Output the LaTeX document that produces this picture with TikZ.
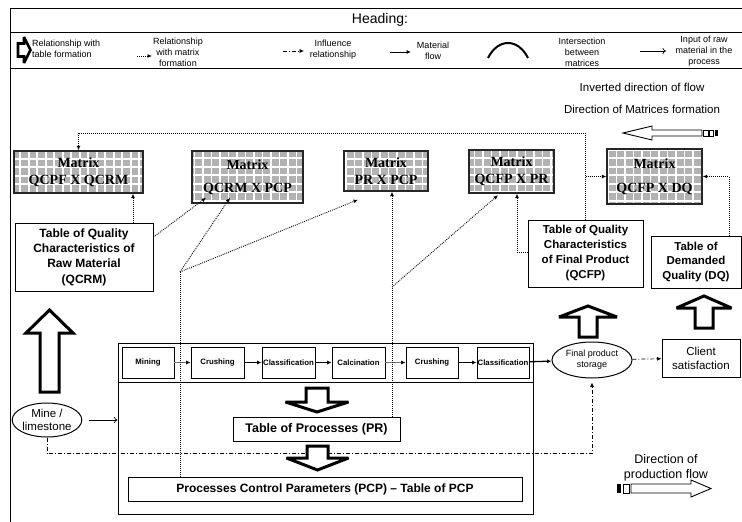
\documentclass[tikz,border=0pt]{standalone}
\usepackage{fontspec}
\setmainfont{Liberation Sans}
\newfontfamily\matfont{Liberation Serif}
\usetikzlibrary{arrows.meta,shapes.geometric}

\tikzset{
  frame/.style={draw, line width=0.9pt},
  tablebox/.style={draw, line width=1pt, fill=white, align=center, inner sep=0pt,
    font=\bfseries\fontsize{12}{15.3}\selectfont},
  stepbox/.style={draw, line width=0.8pt, fill=white, inner sep=0pt, minimum height=31pt,
    font=\bfseries\fontsize{7.8}{9}\selectfont},
  matbox/.style={draw=black!85, line width=1.4pt, fill=black!30, inner sep=0pt, align=center,
    font=\matfont\bfseries\fontsize{14}{17}\selectfont,
    path picture={\draw[white, line width=1.6pt]
      ([shift={(-9,9)}]path picture bounding box.south west) grid[step=8.5pt]
      (path picture bounding box.north east);}},
  tip/.style={-{Latex[length=4.5pt,width=4pt,color=black]}},
  rel/.style={tip, line width=0.9pt, dash pattern=on 0.9pt off 1.1pt},
  reldot/.style={line width=0.9pt, dash pattern=on 0.9pt off 1.1pt},
  infl/.style={tip, line width=0.7pt, dash pattern=on 4pt off 2pt on 1pt off 2pt},
  thickflow/.style={tip, line width=1.3pt},
  thinflow/.style={tip, line width=0.6pt, draw=black!55},
  blockarrow/.style={draw, line width=3pt, fill=white, line join=miter, miter limit=3},
  legtext/.style={align=center, font=\fontsize{9}{11}\selectfont, inner sep=0pt},
  note/.style={font=\fontsize{11.5}{14}\selectfont, align=center, inner sep=0pt},
}

% vertical block arrow: centre x, shaft end y, head base y, tip y, shaft half width, head half width
\newcommand\blockvert[6]{%
  \draw[blockarrow] (#1-#5,#2) -- (#1-#5,#3) -- (#1-#6,#3) -- (#1,#4) -- (#1+#6,#3)
    -- (#1+#5,#3) -- (#1+#5,#2) -- cycle;}

\begin{document}
\begin{tikzpicture}[x=1pt,y=-1pt]
\useasboundingbox (0,0) rectangle (742,522);
\clip (0,0) rectangle (742,522);

% outer frame and heading
\draw[frame] (10,560) -- (10,8) -- (760,8);
\node[font=\fontsize{14}{16}\selectfont] (heading) at (380,19.5) {Heading:};
\draw[frame] (10,32) rectangle (760,68);

% legend
\draw[line width=2.6pt, fill=white, line join=miter, miter limit=3]
  (18,43.5) -- (24,43.5) -- (24,37) -- (30.5,50) -- (24,63) -- (24,56.5) -- (18,56.5) -- cycle;
\node[legtext, align=left, anchor=west] (lg1) at (32,48.5) {Relationship with\\table formation};
\draw[rel] (137,56) -- (152,56);
\node[legtext] (lg2) at (178,52) {Relationship\\with matrix\\formation};
\draw[infl] (283,51) -- (304,51);
\node[legtext] (lg3) at (333,50) {Influence\\relationship};
\draw[tip, line width=0.8pt] (390,52) -- (411,52);
\node[legtext] (lg4) at (433,51) {Material\\flow};
\draw[line width=2pt] (488,58) .. controls (498,38) and (518,38) .. (528,58);
\node[legtext] (lg5) at (582,52) {Intersection\\between\\matrices};
\draw[-{To[length=3.5pt,width=6pt]}, line width=0.7pt] (640,51) -- (666,51);
\node[legtext] (lg6) at (704,51.5) {Input of raw\\material in the\\process};

% direction of matrices formation
\node[note] (inv) at (642,87) {Inverted direction of flow};
\node[note] (dmf) at (642,109) {Direction of Matrices formation};
\draw[line width=0.9pt, fill=white] (623,133) -- (652,126) -- (652,130) -- (702,130)
  -- (702,136) -- (652,136) -- (652,140) -- cycle;
\draw[line width=0.9pt] (703.5,130) rectangle (708,136);
\draw[line width=0.9pt] (709.5,130) rectangle (713,136);
\fill (714.5,130) rectangle (717.5,136);

% matrices
\node[matbox, minimum width=129pt, minimum height=42pt] (m1) at (78.5,172) {Matrix\\QCPF X QCRM};
\node[matbox, minimum width=111pt, minimum height=52pt] (m2) at (247.5,177) {Matrix\\[6pt]QCRM X PCP};
\node[matbox, minimum width=84pt, minimum height=40pt] (m3) at (386,171) {Matrix\\PR X PCP};
\node[matbox, minimum width=85pt, minimum height=43pt] (m4) at (511.5,171.5) {Matrix\\QCFP X PR};
\node[matbox, minimum width=95pt, minimum height=55pt] (m5) at (654.5,176.5) {Matrix\\[7pt]QCFP X DQ};

% quality tables
\node[tablebox, minimum width=138pt, minimum height=68pt] (qcrm) at (84,257)
  {Table of Quality\\Characteristics of\\Raw Material\\(QCRM)};
\node[tablebox, minimum width=115pt, minimum height=67pt, font=\bfseries\fontsize{11.5}{15}\selectfont]
  (qcfp) at (585.5,253.5) {Table of Quality\\Characteristics\\of Final Product\\(QCFP)};
\node[tablebox, minimum width=90pt, minimum height=52pt, font=\bfseries\fontsize{11.5}{14.5}\selectfont]
  (dq) at (696,262) {Table of\\Demanded\\Quality (DQ)};

% production process
\node[draw, line width=1pt, minimum width=415pt, minimum height=171pt, inner sep=0pt] (proc) at (325.5,428.5) {};
\coordinate (divl) at (118,382);
\draw[line width=1pt] (divl) -- (divl -| proc.east);
\node[stepbox, minimum width=52pt] (s1) at (148,362.5) {Mining};
\node[stepbox, minimum width=53pt] (s2) at (217.5,362.5) {Crushing};
\node[stepbox, minimum width=53pt] (s3) at (288.5,362.5) {Classification};
\node[stepbox, minimum width=53pt] (s4) at (358.5,362.5) {Calcination};
\node[stepbox, minimum width=52pt] (s5) at (432,362.5) {Crushing};
\node[stepbox, minimum width=52pt] (s6) at (503,362.5) {Classification};
\draw[thinflow] (s1) -- (s2);
\draw[thickflow] (s2) -- (s3);
\draw[thickflow] (s3) -- (s4);
\draw[thinflow] (s4) -- (s5);
\draw[thickflow] (s5) -- (s6);

\node[tablebox, minimum width=167pt, minimum height=24pt, font=\bfseries\fontsize{12.5}{15}\selectfont]
  (pr) at (316.5,429) {Table of Processes (PR)};
\node[tablebox, minimum width=394pt, minimum height=24pt] (pcp) at (325,489)
  {Processes Control Parameters (PCP) -- Table of PCP};

\node[draw, ellipse, line width=1pt, minimum width=80pt, minimum height=36pt, inner sep=0pt,
  align=center, font=\fontsize{9}{11}\selectfont] (fps) at (592,360) {Final product\\storage};
\node[draw, line width=1pt, minimum width=78pt, minimum height=38pt, inner sep=0pt,
  align=center, font=\fontsize{11.5}{14}\selectfont] (client) at (701,358) {Client\\satisfaction};
\node[draw, ellipse, line width=1pt, minimum width=66pt, minimum height=34pt, inner sep=0pt,
  align=center, font=\fontsize{11.5}{13}\selectfont] (mine) at (47,420) {Mine /\\limestone};

\draw[thickflow] (s6) -- (fps);
\draw[-{To[length=3.5pt,width=6pt]}, line width=0.7pt, shorten <=7pt] (mine.east) -- (mine.east -| proc.west);
\draw[infl] (fps) -- (client);
\draw[infl, shorten >=4pt] (mine.south) -- ++(0,16) -| (fps.south);

% block arrows
\blockvert{49.5}{392}{333}{310}{9.5}{23.5}
\blockvert{588}{337}{317}{306}{9}{29}
\blockvert{704}{328}{308}{296}{9}{27.5}
\blockvert{317}{388}{402}{412}{11}{31.5}
\blockvert{317.5}{446}{458}{470}{10.5}{31}

% matrix formation relationships
\draw[rel] (qcfp.north) |- (m1.north |- 0,133) -- (m1.north);
\draw[rel] (qcfp.north |- m5.west) -- (m5.west);
\draw[rel] ([xshift=49pt]qcrm.north) -- ([xshift=49pt]qcrm.north |- m1.south);
\draw[rel] ([shift={(0,-20)}]qcrm.east) -- ([shift={(-41.5,-6)}]m2.south);
\coordinate (P) at (180,272);
\draw[reldot] (P |- pcp.north) -- (P);
\draw[rel] (P) -- ([shift={(-17.5,-6)}]m2.south);
\draw[rel] (P) -- ([shift={(-28,8)}]m3.south);
\coordinate (Q) at (392,287);
\draw[rel] (Q |- pr.north) -- (Q |- m3.south);
\draw[rel] (Q) -- ([shift={(-13.5,1.5)}]m4.south);
\draw[rel] ([shift={(0,-1.5)}]qcfp.west) -| ([xshift=5.5pt]m4.south);
\draw[rel] ([xshift=33pt]dq.north) |- (m5.east);

% direction of production flow
\node[note, font=\fontsize{12.5}{15}\selectfont] (dpf) at (666,468) {Direction of\\production flow};
\draw[line width=0.9pt, fill=white] (631,484) -- (691,484) -- (691,480) -- (711,488.5)
  -- (691,497) -- (691,493) -- (631,493) -- cycle;
\draw[line width=0.9pt] (623,484) rectangle (629,493);
\fill (617,484) rectangle (621,493);
\end{tikzpicture}
\end{document}
